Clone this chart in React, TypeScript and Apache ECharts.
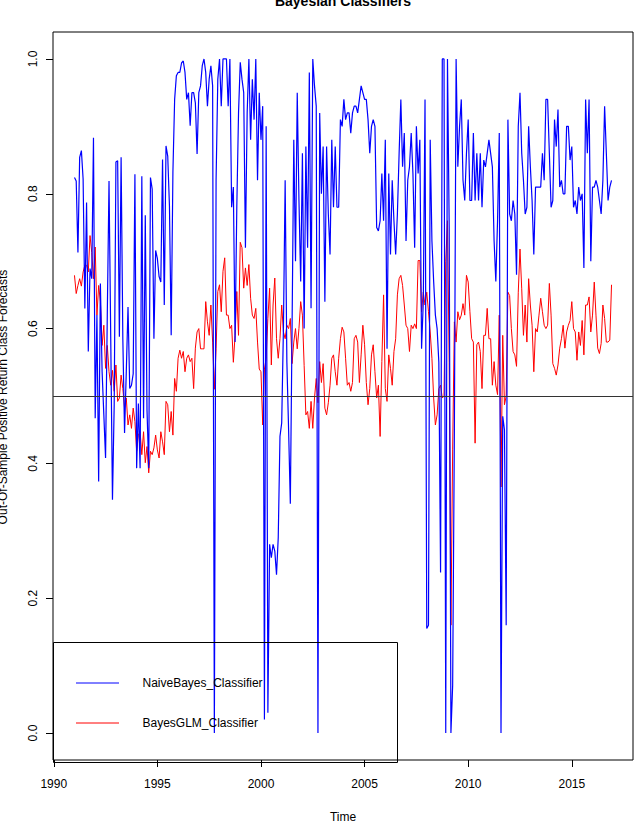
import React, { useEffect, useRef } from "react";
import * as echarts from "echarts";

// Monthly observations, first one January 1991
const startYear = 1991;
const monthsPerYear = 12;

const naiveBayes: number[] = [
  // 1991-1996
  0.824, 0.819, 0.713, 0.854, 0.864, 0.822, 0.63, 0.787, 0.566, 0.689, 0.674, 0.883,
  0.467, 0.62, 0.373, 0.667, 0.536, 0.472, 0.408, 0.62, 0.819, 0.585, 0.346, 0.487,
  0.847, 0.849, 0.588, 0.854, 0.585, 0.445, 0.536, 0.632, 0.511, 0.516, 0.533, 0.829,
  0.393, 0.489, 0.393, 0.826, 0.467, 0.768, 0.479, 0.393, 0.824, 0.807, 0.585, 0.716,
  0.704, 0.677, 0.669, 0.851, 0.635, 0.871, 0.856, 0.782, 0.59, 0.832, 0.94, 0.975,
  0.98, 0.98, 0.994, 0.997, 0.98, 0.94, 0.95, 0.901, 0.95, 0.95, 0.935, 0.859,
  // 1997-2003
  0.95, 0.96, 0.99, 1.0, 0.98, 0.93, 0.97, 0.99, 0.96, 0.0, 0.82, 0.97,
  1.0, 0.93, 1.0, 1.0, 1.0, 0.93, 1.0, 0.78, 0.81, 0.58, 0.78, 0.92,
  0.995, 0.97, 0.95, 0.72, 0.92, 1.0, 0.88, 0.97, 0.91, 1.0, 0.82, 0.95,
  0.88, 0.93, 0.02, 0.9, 0.03, 0.28, 0.26, 0.28, 0.27, 0.235, 0.29, 0.44,
  0.46, 0.6, 0.82, 0.55, 0.45, 0.34, 0.6, 0.88, 0.7, 0.95, 0.79, 0.67,
  0.86, 0.6, 0.87, 0.72, 0.98, 0.63, 1.0, 0.96, 0.93, 0.0, 0.92, 0.8,
  0.87, 0.64, 0.87, 0.77,
  // 2003-2009
  0.71, 0.88, 0.78, 0.87, 0.78, 0.78, 0.91, 0.9, 0.94, 0.91, 0.92, 0.92,
  0.89, 0.92, 0.93, 0.93, 0.92, 0.94, 0.96, 0.95, 0.94, 0.94, 0.91, 0.86,
  0.9, 0.91, 0.9, 0.75, 0.745, 0.76, 0.83, 0.76, 0.88, 0.57, 0.83, 0.71,
  0.82, 0.76, 0.71, 0.77, 0.86, 0.94, 0.84, 0.89, 0.73, 0.82, 0.84, 0.89,
  0.83, 0.72, 0.9, 0.83, 0.88, 0.57, 0.64, 0.94, 0.155, 0.16, 0.88, 0.73,
  0.67, 0.62, 0.6, 0.55, 0.238, 1.0, 1.0, 0.0, 1.0, 0.75, 0.0, 0.07,
  0.45, 1.0,
  // 2009-2016
  0.84, 0.9, 0.94, 0.82, 0.79, 0.86, 0.91, 0.79, 0.79, 0.89, 0.79, 0.86,
  0.79, 0.86, 0.78, 0.85, 0.84, 0.86, 0.88, 0.86, 0.84, 0.73, 0.67, 0.76,
  0.89, 0.0, 0.47, 0.45, 0.16, 0.91, 0.77, 0.76, 0.79, 0.77, 0.68, 0.9,
  0.95, 0.86, 0.82, 0.77, 0.78, 0.9, 0.84, 0.79, 0.71, 0.81, 0.81, 0.81,
  0.81, 0.86, 0.82, 0.94, 0.94, 0.86, 0.78, 0.79, 0.91, 0.87, 0.925, 0.81,
  0.82, 0.8, 0.8, 0.9, 0.9, 0.85, 0.87, 0.78, 0.79, 0.77, 0.81, 0.79,
  0.8, 0.69, 0.94, 0.86, 0.94, 0.7, 0.81, 0.81, 0.82, 0.81, 0.79, 0.77,
  0.82, 0.93, 0.86, 0.79, 0.81, 0.82,
];

const bayesGLM: number[] = [
  // 1991-1996
  0.679, 0.652, 0.664, 0.674, 0.663, 0.684, 0.694, 0.694, 0.684, 0.738, 0.713, 0.674,
  0.721, 0.62, 0.664, 0.64, 0.575, 0.605, 0.541, 0.575, 0.536, 0.516, 0.538, 0.507,
  0.546, 0.492, 0.497, 0.531, 0.511, 0.482, 0.497, 0.457, 0.472, 0.452, 0.482, 0.462,
  0.418, 0.442, 0.447, 0.413, 0.447, 0.401, 0.425, 0.386, 0.418, 0.413, 0.423, 0.442,
  0.42, 0.408, 0.447, 0.432, 0.413, 0.492, 0.487, 0.447, 0.477, 0.442, 0.526, 0.507,
  0.556, 0.568, 0.556, 0.566, 0.536, 0.556, 0.561, 0.551, 0.556, 0.511, 0.571, 0.595,
  // 1997-2003
  0.6, 0.57, 0.57, 0.57, 0.64, 0.61, 0.59, 0.635, 0.58, 0.51, 0.57, 0.655,
  0.665, 0.625, 0.685, 0.705, 0.62, 0.62, 0.6, 0.605, 0.55, 0.59, 0.655, 0.59,
  0.728, 0.72, 0.66, 0.69, 0.664, 0.695, 0.645, 0.62, 0.615, 0.63, 0.58, 0.54,
  0.536, 0.457, 0.54, 0.556, 0.615, 0.66, 0.546, 0.635, 0.675, 0.585, 0.556, 0.585,
  0.635, 0.595, 0.585, 0.605, 0.6, 0.615, 0.548, 0.58, 0.6, 0.57, 0.6, 0.64,
  0.62, 0.545, 0.472, 0.477, 0.452, 0.492, 0.452, 0.497, 0.526, 0.49, 0.551, 0.52,
  0.548, 0.482, 0.472, 0.49,
  // 2003-2009
  0.516, 0.556, 0.561, 0.536, 0.516, 0.556, 0.585, 0.602, 0.595, 0.556, 0.516, 0.52,
  0.507, 0.52, 0.585, 0.59, 0.58, 0.52, 0.561, 0.605, 0.576, 0.52, 0.487, 0.511,
  0.561, 0.576, 0.536, 0.497, 0.516, 0.44, 0.551, 0.65, 0.511, 0.492, 0.561, 0.541,
  0.516, 0.566, 0.585, 0.65, 0.674, 0.679, 0.664, 0.635, 0.605, 0.6, 0.566, 0.605,
  0.6, 0.607, 0.6, 0.701, 0.701, 0.625, 0.654, 0.635, 0.654, 0.625, 0.595, 0.556,
  0.497, 0.457, 0.472, 0.511, 0.516, 0.497, 0.5, 0.7, 0.76, 0.55, 0.16, 0.42,
  0.61, 0.58,
  // 2009-2016
  0.625, 0.613, 0.62, 0.637, 0.62, 0.679, 0.669, 0.625, 0.585, 0.58, 0.43, 0.576,
  0.58, 0.566, 0.511, 0.59, 0.59, 0.63, 0.585, 0.585, 0.516, 0.551, 0.516, 0.502,
  0.62, 0.365, 0.59, 0.487, 0.5, 0.654, 0.649, 0.6, 0.566, 0.561, 0.544, 0.654,
  0.718, 0.659, 0.59, 0.635, 0.58, 0.674, 0.635, 0.605, 0.536, 0.6, 0.595, 0.62,
  0.645, 0.625, 0.605, 0.6, 0.605, 0.667, 0.62, 0.548, 0.541, 0.531, 0.546, 0.571,
  0.585, 0.605, 0.571, 0.595, 0.605, 0.612, 0.64, 0.6, 0.595, 0.553, 0.595, 0.575,
  0.612, 0.561, 0.635, 0.635, 0.647, 0.595, 0.62, 0.669, 0.62, 0.571, 0.563, 0.578,
  0.635, 0.615, 0.58, 0.58, 0.583, 0.665,
];

const seriesNames = ["NaiveBayes_Classifier", "BayesGLM_Classifier"];
const seriesColors = ["#0000ff", "#ff0000"];
const xTicks = [1990, 1995, 2000, 2005, 2010, 2015];
const yTicks = [0, 0.2, 0.4, 0.6, 0.8, 1.0];
const threshold = 0.5;
const titleText = "Bayesian Classifiers";
const xTitle = "Time";
const yTitle = "Out-Of-Sample Positive Return Class Forecasts";

const FONT = "'Liberation Sans', Arial, Helvetica, sans-serif";

export default function App() {
  const ref = useRef<HTMLDivElement>(null);

  useEffect(() => {
    if (!ref.current) return;
    const chart = echarts.init(ref.current, null, { renderer: "svg" });
    const toPairs = (arr: number[]) =>
      arr.map((v, i) => [startYear + i / monthsPerYear, v]);
    const n = naiveBayes.length;
    const first = startYear;
    const last = startYear + (n - 1) / monthsPerYear;
    const pad = (last - first) * 0.04;

    chart.setOption({
      animation: false,
      backgroundColor: "#ffffff",
      textStyle: { fontFamily: FONT },
      grid: {
        left: 53,
        right: 1,
        top: 32,
        bottom: 65,
        show: true,
        borderColor: "#000",
        borderWidth: 1,
        backgroundColor: "transparent",
      },
      xAxis: {
        type: "value",
        min: first - pad,
        max: last + pad,
        splitLine: { show: false },
        axisLine: { show: false, onZero: false },
        axisTick: {
          show: true,
          customValues: xTicks,
          length: 7,
          lineStyle: { color: "#000", width: 1 },
        },
        axisLabel: {
          customValues: xTicks,
          margin: 18,
          color: "#000",
          fontSize: 12,
          fontFamily: FONT,
          formatter: (v: number) => String(Math.round(v)),
        },
        name: xTitle,
        nameLocation: "middle",
        nameGap: 51,
        nameMoveOverlap: false,
        nameTextStyle: { color: "#000", fontSize: 12, fontFamily: FONT },
      },
      yAxis: {
        type: "value",
        min: -0.04,
        max: 1.04,
        splitLine: { show: false },
        axisLine: { show: false, onZero: false },
        axisTick: {
          show: true,
          customValues: yTicks,
          length: 7,
          lineStyle: { color: "#000", width: 1 },
        },
        axisLabel: {
          customValues: yTicks,
          rotate: 90,
          margin: 14,
          color: "#000",
          fontSize: 12,
          fontFamily: FONT,
          formatter: (v: number) => v.toFixed(1),
        },
      },
      series: [
        {
          name: seriesNames[1],
          type: "line",
          data: toPairs(bayesGLM),
          showSymbol: false,
          symbol: "none",
          lineStyle: { color: seriesColors[1], width: 1 },
          itemStyle: { color: seriesColors[1] },
          z: 2,
          markLine: {
            silent: true,
            symbol: ["none", "none"],
            label: { show: false },
            lineStyle: { color: "#333", type: "solid", width: 1 },
            data: [{ yAxis: threshold }],
          },
        },
        {
          name: seriesNames[0],
          type: "line",
          data: toPairs(naiveBayes),
          showSymbol: false,
          symbol: "none",
          lineStyle: { color: seriesColors[0], width: 1.2 },
          itemStyle: { color: seriesColors[0] },
          z: 3,
        },
      ],
      graphic: [
        {
          type: "text",
          x: 343,
          y: 0.5,
          style: {
            text: titleText,
            font: `bold 14px ${FONT}`,
            fill: "#000",
            align: "center",
            verticalAlign: "middle",
          },
        },
        {
          type: "text",
          x: 2.5,
          y: 397,
          rotation: Math.PI / 2,
          style: {
            text: yTitle,
            font: `12px ${FONT}`,
            fill: "#000",
            align: "center",
            verticalAlign: "middle",
          },
        },
        {
          type: "rect",
          shape: { x: 53.5, y: 642.5, width: 344, height: 120 },
          style: { fill: "none", stroke: "#000", lineWidth: 1 },
          z: 10,
        },
        {
          type: "line",
          shape: { x1: 76, y1: 683, x2: 119, y2: 683 },
          style: { stroke: seriesColors[0], lineWidth: 1 },
          z: 10,
        },
        {
          type: "line",
          shape: { x1: 76, y1: 723, x2: 119, y2: 723 },
          style: { stroke: seriesColors[1], lineWidth: 1 },
          z: 10,
        },
        {
          type: "text",
          x: 142.5,
          y: 683,
          style: {
            text: seriesNames[0],
            font: `12px ${FONT}`,
            fill: "#000",
            align: "left",
            verticalAlign: "middle",
          },
          z: 10,
        },
        {
          type: "text",
          x: 142.5,
          y: 723,
          style: {
            text: seriesNames[1],
            font: `12px ${FONT}`,
            fill: "#000",
            align: "left",
            verticalAlign: "middle",
          },
          z: 10,
        },
      ],
    });
    return () => chart.dispose();
  }, []);

  return (
    <div
      ref={ref}
      style={{ position: "absolute", left: 0, top: 0, width: 634, height: 828 }}
    />
  );
}
